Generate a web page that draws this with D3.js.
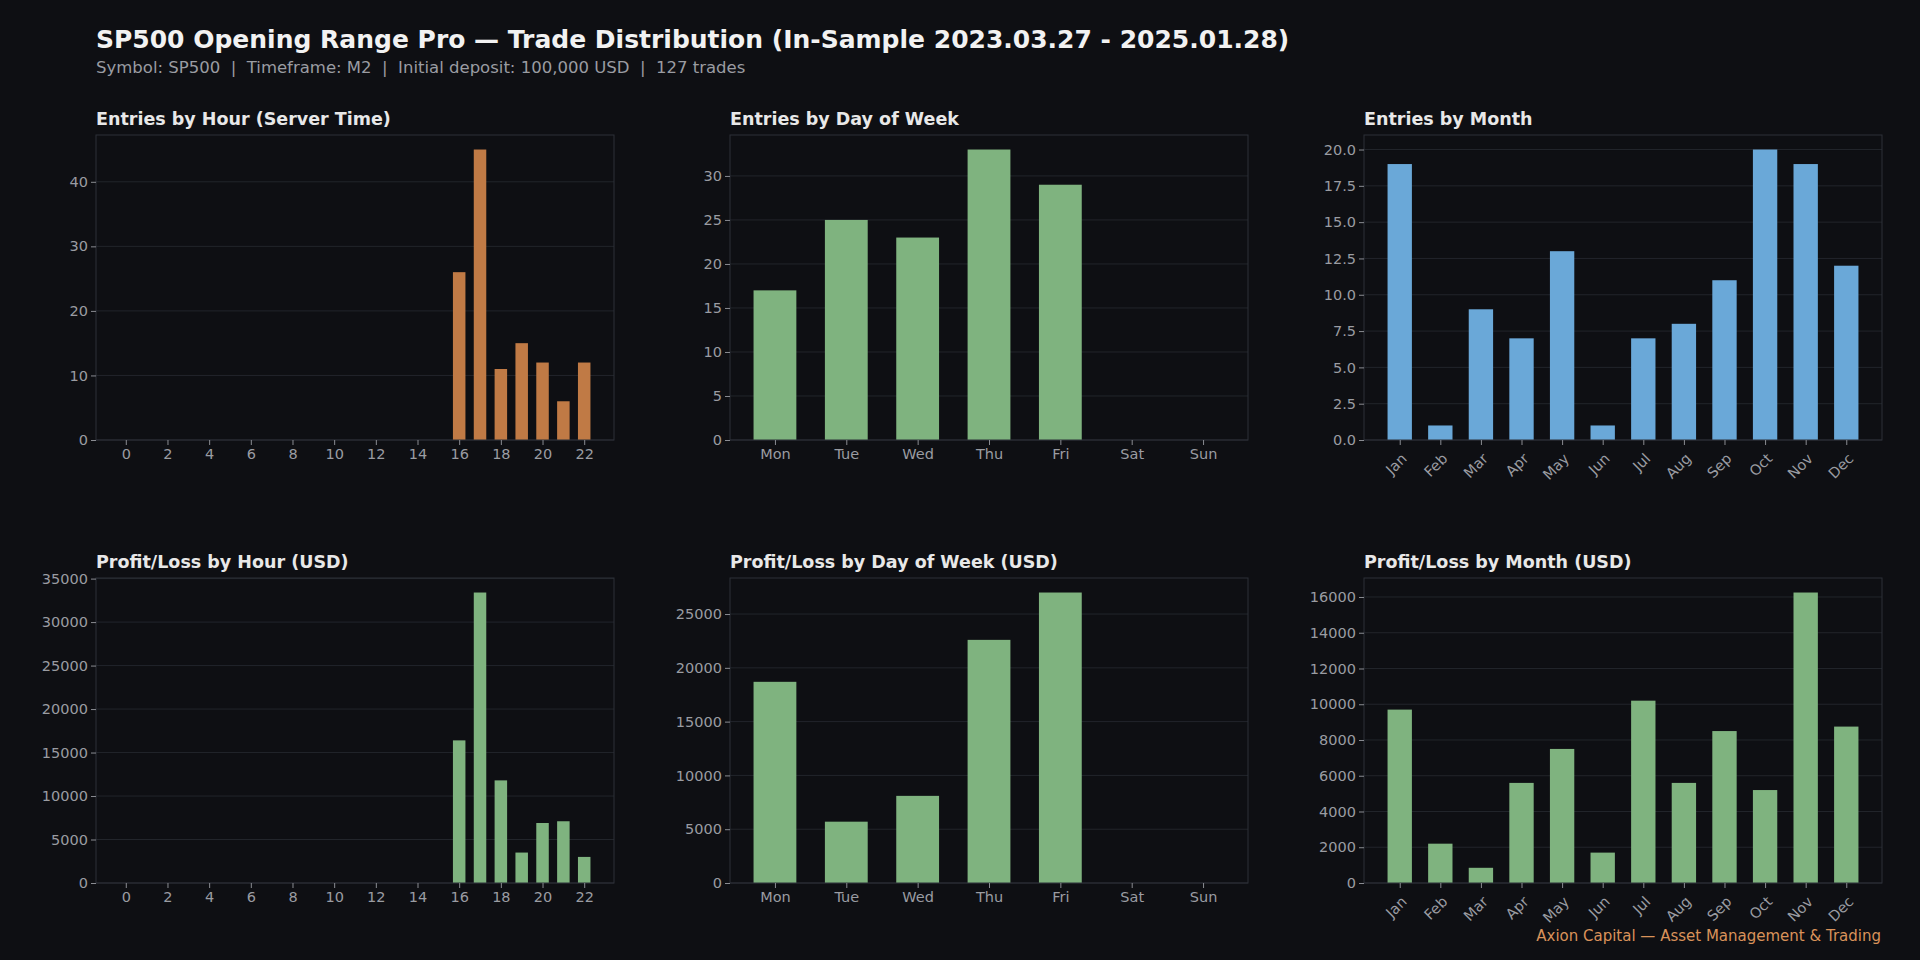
<!DOCTYPE html>
<head>
  <meta charset="utf-8">
  <script src="https://d3js.org/d3.v7.min.js"></script>
  <style>
    body { margin:0; background:#0e0f13; }
    svg { display:block; font-family:"DejaVu Sans", sans-serif; }
    text { white-space: pre; }
  </style>
</head>
<body>
  <svg width="1920" height="960"></svg>
  <script>
    var hours = d3.range(0, 23);
    var hourTicks = d3.range(0, 23, 2);
    var days = ['Mon', 'Tue', 'Wed', 'Thu', 'Fri', 'Sat', 'Sun'];
    var months = ['Jan','Feb','Mar','Apr','May','Jun','Jul','Aug','Sep','Oct','Nov','Dec'];

    var hourEntries = {16: 26, 17: 45, 18: 11, 19: 15, 20: 12, 21: 6, 22: 12};
    var hourPL = {16: 16400, 17: 33400, 18: 11800, 19: 3500, 20: 6900, 21: 7100, 22: 3000};
    var dayEntries = [17, 25, 23, 33, 29, 0, 0];
    var dayPL = [18700, 5700, 8100, 22600, 27000, 0, 0];
    var monthEntries = [19, 1, 9, 7, 13, 1, 7, 8, 11, 20, 19, 12];
    var monthPL = [9700, 2200, 850, 5600, 7500, 1700, 10200, 5600, 8500, 5200, 16250, 8750];

    var svg = d3.select('svg');
    var orange = '#c07a45', green = '#7fb37f', blue = '#6aa8d8';

    svg.append('text').attr('x', 96).attr('y', 48).attr('fill', '#f2f2f2')
      .attr('font-size', 25).attr('font-weight', 'bold')
      .text('SP500 Opening Range Pro \u2014 Trade Distribution (In-Sample 2023.03.27 - 2025.01.28)');
    svg.append('text').attr('x', 96).attr('y', 73).attr('fill', '#9a9ca2').attr('font-size', 16.5)
      .text('Symbol: SP500  |  Timeframe: M2  |  Initial deposit: 100,000 USD  |  127 trades');
    svg.append('text').attr('x', 1881).attr('y', 941).attr('text-anchor', 'end')
      .attr('fill', '#d9925a').attr('font-size', 15)
      .text('Axion Capital \u2014 Asset Management & Trading');

    function panel(o) {
      var x0 = o.x, y0 = o.y, w = 518, h = 305;
      var g = svg.append('g');
      g.append('text').attr('x', x0).attr('y', y0 - 10).attr('fill', '#e8e8e8')
        .attr('font-size', 17.5).attr('font-weight', 'bold').text(o.title);

      var n = o.values.length;
      var pad = 0.05 * (n - 0.4);
      var x = d3.scaleLinear().domain([-0.3 - pad, n - 0.7 + pad]).range([x0, x0 + w]);
      var y = d3.scaleLinear().domain([0, d3.max(o.values) * 1.05]).range([y0 + h, y0]);
      var data = o.values.map((v, i) => ({i: i, v: v})).filter(d => d.v > 0);

      g.selectAll('.grid').data(o.yticks).enter().append('line')
        .attr('x1', x0).attr('x2', x0 + w)
        .attr('y1', d => y(d)).attr('y2', d => y(d))
        .attr('stroke', '#22252b').attr('stroke-width', 1);

      g.selectAll('.bar').data(data).enter().append('rect')
        .attr('x', d => x(d.i - 0.3))
        .attr('y', d => y(d.v))
        .attr('width', x(0.6) - x(0))
        .attr('height', d => y(0) - y(d.v))
        .attr('fill', o.color);

      g.append('rect').attr('x', x0).attr('y', y0).attr('width', w).attr('height', h)
        .attr('fill', 'none').attr('stroke', '#2d3038');

      var ya = g.append('g').attr('transform', 'translate(' + x0 + ',0)')
        .call(d3.axisLeft(y).tickValues(o.yticks).tickSize(5).tickFormat(o.yfmt || d3.format('d')));
      var xa = g.append('g').attr('transform', 'translate(0,' + (y0 + h) + ')')
        .call(d3.axisBottom(x).tickValues(o.xticks).tickSize(5).tickFormat(o.xlabel));
      [ya, xa].forEach(a => {
        a.select('.domain').remove();
        a.selectAll('line').attr('stroke', '#8a8c92');
        a.selectAll('text').attr('fill', '#9a9ca2').attr('font-size', 14.5).attr('font-family', '"DejaVu Sans", sans-serif');
      });
      ya.selectAll('text').attr('x', -8);
      xa.selectAll('text').attr('y', 9);
      if (o.rotate) {
        xa.selectAll('text').attr('text-anchor', 'end').attr('dy', '0.35em').attr('y', 0)
          .attr('transform', 'translate(4,16) rotate(-45)');
      }
    }

    var colX = [96, 730, 1364], rowY = [135, 578];
    var he = hours.map(hh => hourEntries[hh] || 0);
    var hp = hours.map(hh => hourPL[hh] || 0);

    panel({x: colX[0], y: rowY[0], title: 'Entries by Hour (Server Time)', values: he,
      color: orange, yticks: [0, 10, 20, 30, 40], xticks: hourTicks, xlabel: d => d});
    panel({x: colX[1], y: rowY[0], title: 'Entries by Day of Week', values: dayEntries,
      color: green, yticks: d3.range(0, 31, 5), xticks: d3.range(7), xlabel: i => days[i]});
    panel({x: colX[2], y: rowY[0], title: 'Entries by Month', values: monthEntries,
      color: blue, yticks: d3.range(0, 20.1, 2.5), yfmt: d3.format('.1f'),
      xticks: d3.range(12), xlabel: i => months[i], rotate: true});
    panel({x: colX[0], y: rowY[1], title: 'Profit/Loss by Hour (USD)', values: hp,
      color: green, yticks: d3.range(0, 35001, 5000), xticks: hourTicks, xlabel: d => d});
    panel({x: colX[1], y: rowY[1], title: 'Profit/Loss by Day of Week (USD)', values: dayPL,
      color: green, yticks: d3.range(0, 25001, 5000), xticks: d3.range(7), xlabel: i => days[i]});
    panel({x: colX[2], y: rowY[1], title: 'Profit/Loss by Month (USD)', values: monthPL,
      color: green, yticks: d3.range(0, 16001, 2000),
      xticks: d3.range(12), xlabel: i => months[i], rotate: true});
  </script>
</body>
